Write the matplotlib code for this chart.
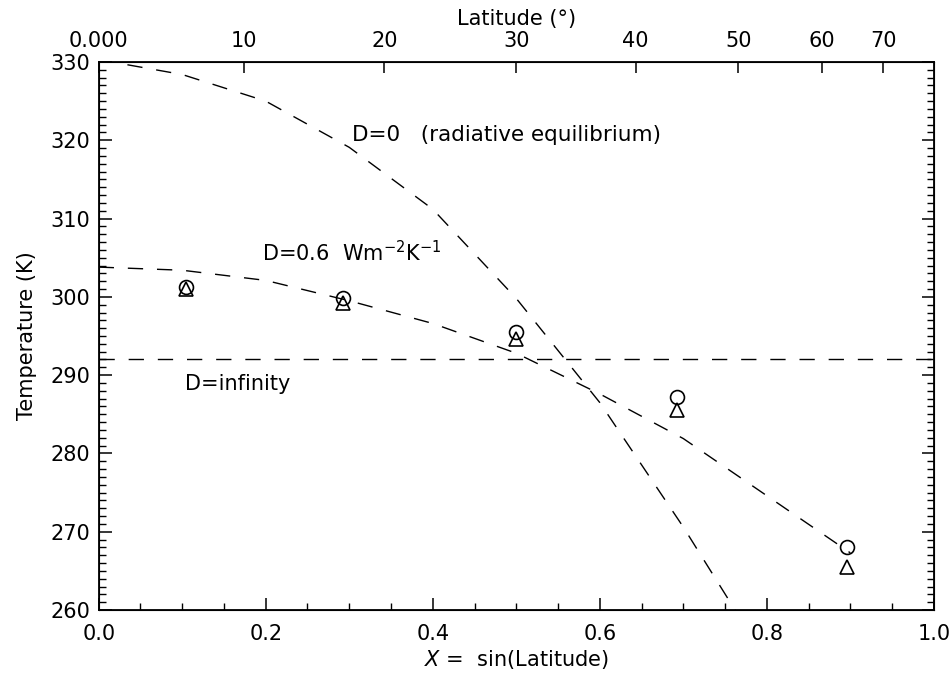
import numpy as np
import matplotlib
matplotlib.use("Agg")
import matplotlib.pyplot as plt
from matplotlib.ticker import MultipleLocator, FormatStrFormatter

# curves (x = sin(latitude), T in K)
x_grid = [0.0, 0.1, 0.2, 0.3, 0.4, 0.5, 0.6, 0.7, 0.8]
t_rad_eq = [330.3, 328.4, 325.0, 319.1, 311.2, 299.8, 286.5, 270.6, 253.5]

x_d06 = [0.0, 0.1, 0.2, 0.3, 0.4, 0.5, 0.6, 0.7, 0.8, 0.9]
t_d06 = [303.8, 303.4, 302.1, 299.5, 296.6, 292.8, 287.6, 281.9, 274.6, 267.3]

x_dinf = [0.0, 1.0]
t_dinf = [292.0, 292.0]

# observations
x_obs = [0.105, 0.293, 0.5, 0.692, 0.896]
t_circle = [301.3, 299.8, 295.5, 287.2, 268.0]
t_triangle = [301.0, 299.2, 294.6, 285.6, 265.5]

lat_ticks = [0, 10, 20, 30, 40, 50, 60, 70]
lat_labels = ['0.000', '10', '20', '30', '40', '50', '60', '70']

plt.rcParams['font.family'] = ['DejaVu Sans']
plt.rcParams['font.size'] = 15

fig = plt.figure(figsize=(9.49, 6.85), dpi=100)
ax = fig.add_axes([0.104, 0.1095, 0.88, 0.80])

dash = [11, 10]
ax.plot(x_grid, t_rad_eq, color='black', lw=1.0, dashes=dash)
ax.plot(x_d06, t_d06, color='black', lw=1.0, dashes=dash)
ax.plot(x_dinf, t_dinf, color='black', lw=1.0, dashes=dash)

ax.plot(x_obs, t_circle, 'o', ms=10, mfc='none', mec='black', mew=1.2)
ax.plot(x_obs, t_triangle, '^', ms=10, mfc='none', mec='black', mew=1.2)

ax.text(0.303, 320.7, 'D=0   (radiative equilibrium)', ha='left', va='center',
        fontsize=15.5)
ax.text(0.196, 305.7, r'D=0.6  Wm$^{-2}$K$^{-1}$', ha='left', va='center')
ax.text(0.103, 288.9, 'D=infinity', ha='left', va='center')

ax.set_xlim(0, 1.0)
ax.set_ylim(260, 330)
ax.xaxis.set_major_locator(MultipleLocator(0.2))
ax.xaxis.set_minor_locator(MultipleLocator(0.05))
ax.xaxis.set_major_formatter(FormatStrFormatter('%.1f'))
ax.yaxis.set_major_locator(MultipleLocator(10))
ax.yaxis.set_minor_locator(MultipleLocator(1))
ax.tick_params(which='major', direction='in', length=9, width=1.1,
               left=True, right=True, bottom=True, top=False)
ax.tick_params(which='minor', direction='in', length=5, width=1.0,
               left=True, right=True, bottom=True, top=False)
ax.tick_params(axis='x', pad=10)
ax.tick_params(axis='y', pad=6)
ax.set_xlabel(r'$X$ =  sin(Latitude)', labelpad=3)
ax.set_ylabel('Temperature (K)', labelpad=10)
for s in ax.spines.values():
    s.set_linewidth(1.3)

# latitude axis on top
top = ax.twiny()
top.set_xlim(ax.get_xlim())
top.set_xticks(np.sin(np.radians(lat_ticks)))
top.set_xticklabels(lat_labels)
top.tick_params(direction='in', length=8, width=1.1, pad=8)
top.set_xlabel('Latitude (°)', labelpad=4)

fig.savefig('out.png', dpi=100)
